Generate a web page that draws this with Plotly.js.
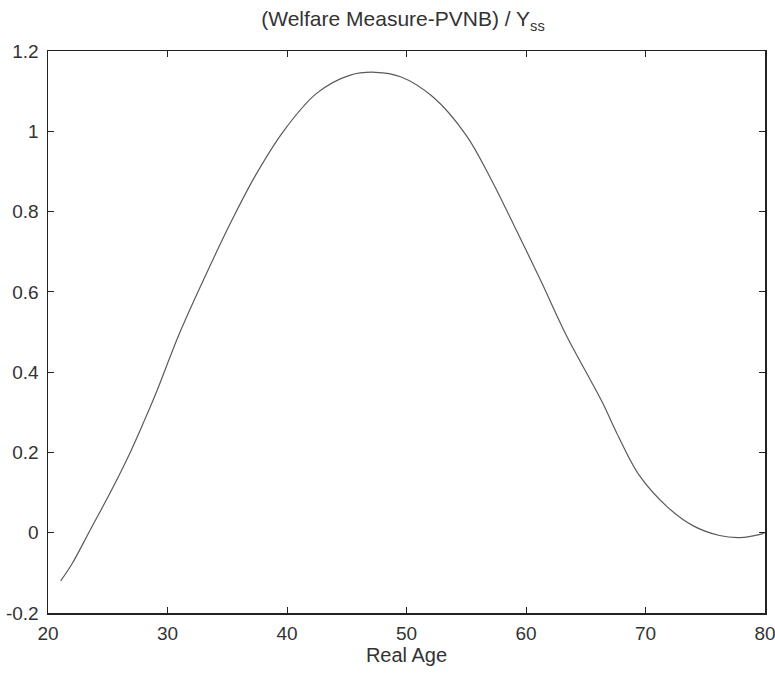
<!DOCTYPE html>
<html>
<head>
<meta charset="utf-8">
<script src="https://cdn.plot.ly/plotly-3.0.1.min.js"></script>
<style>html,body{margin:0;padding:0;background:#fff;}#chart{width:775px;height:675px;}</style>
</head>
<body>
<div id="chart"></div>
<script>
const age = [21.06, 22.0, 23.5, 25.3, 26.8, 28.0, 29.0, 31.05, 33.56, 35.5, 37.4, 39.7, 42.5, 45.3, 47.4, 49.5, 52.2, 55.0, 57.0, 58.4, 61.2, 63.4, 65.4, 66.5, 67.6, 69.5, 71.8, 74.0, 76.2, 77.9, 79.6, 80.0];
const welfare = [-0.12, -0.078, 0.005, 0.105, 0.195, 0.275, 0.345, 0.5, 0.665, 0.785, 0.892, 1.0, 1.095, 1.140, 1.147, 1.136, 1.086, 0.99, 0.885, 0.802, 0.63, 0.49, 0.38, 0.318, 0.248, 0.142, 0.065, 0.017, -0.007, -0.012, -0.004, 0.0];
const xTicks = [20, 30, 40, 50, 60, 70, 80];
const yTicks = [-0.2, 0, 0.2, 0.4, 0.6, 0.8, 1, 1.2];
const yTickText = ['-0.2', '0', '0.2', '0.4', '0.6', '0.8', '1', '1.2'];

const trace = {
  x: age, y: welfare, type: 'scatter', mode: 'lines',
  line: {color: '#5a5a5a', width: 1.2, shape: 'spline', smoothing: 1},
  hoverinfo: 'none'
};
const fam = 'Liberation Sans, Arial, sans-serif';
const tickFont = {family: fam, size: 19, color: '#333'};
const layout = {
  width: 775, height: 675,
  margin: {l: 48, r: 10, t: 51, b: 62},
  paper_bgcolor: '#fff', plot_bgcolor: '#fff',
  showlegend: false,
  font: tickFont,
  title: {text: '(Welfare Measure-PVNB) / Y<sub>ss</sub>', font: {family: fam, size: 21, color: '#333'}, x: 0.52, xanchor: 'center', y: 0.972, yanchor: 'middle'},
  xaxis: {
    range: [20, 80], tickvals: xTicks, ticktext: xTicks.map(String),
    ticks: 'inside', ticklen: 6, tickcolor: '#222', tickwidth: 1,
    showline: true, linecolor: '#222', linewidth: 1.5, mirror: 'allticks',
    showgrid: false, zeroline: false, ticklabelstandoff: 3, ticklabeloverflow: 'allow',
    title: {text: 'Real Age', font: {family: fam, size: 20, color: '#333'}, standoff: 4},
    tickfont: tickFont
  },
  yaxis: {
    range: [-0.2, 1.2], tickvals: yTicks, ticktext: yTickText,
    ticks: 'inside', ticklen: 6, tickcolor: '#222', tickwidth: 1,
    showline: true, linecolor: '#222', linewidth: 1.5, mirror: 'allticks',
    showgrid: false, zeroline: false, ticklabelstandoff: 4, ticklabeloverflow: 'allow',
    tickfont: tickFont
  }
};
Plotly.newPlot('chart', [trace], layout, {staticPlot: true, displayModeBar: false});
</script>
</body>
</html>
